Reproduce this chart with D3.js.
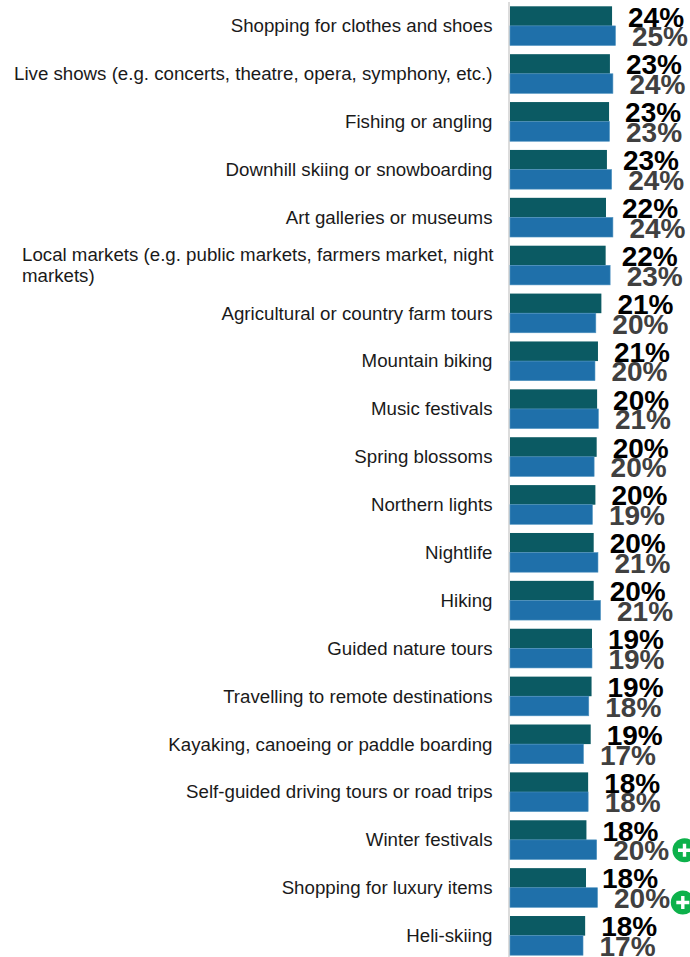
<!DOCTYPE html>
<html>
<head>
<meta charset="utf-8">
<style>
html,body{margin:0;padding:0;background:#fff;overflow:hidden}
svg{display:block}
text{font-family:"Liberation Sans",Arial,sans-serif}
</style>
<script src="https://cdn.jsdelivr.net/npm/d3@7/dist/d3.min.js"></script>
</head>
<body>
<svg id="chart" width="690" height="957"></svg>
<script>
// Share of respondents interested in each activity, two survey waves
const categories = [
  ["Shopping for clothes and shoes"],
  ["Live shows (e.g. concerts, theatre, opera, symphony, etc.)"],
  ["Fishing or angling"],
  ["Downhill skiing or snowboarding"],
  ["Art galleries or museums"],
  ["Local markets (e.g. public markets, farmers market, night", "markets)"],
  ["Agricultural or country farm tours"],
  ["Mountain biking"],
  ["Music festivals"],
  ["Spring blossoms"],
  ["Northern lights"],
  ["Nightlife"],
  ["Hiking"],
  ["Guided nature tours"],
  ["Travelling to remote destinations"],
  ["Kayaking, canoeing or paddle boarding"],
  ["Self-guided driving tours or road trips"],
  ["Winter festivals"],
  ["Shopping for luxury items"],
  ["Heli-skiing"]
];
const currentWave = [23.9,23.4,23.2,22.7,22.48,22.4,21.4,20.6,20.4,20.3,20.0,19.6,19.6,19.2,19.1,18.9,18.3,17.9,17.8,17.6];
const previousWave = [24.7,24.1,23.3,23.8,24.1,23.45,20.1,19.9,20.7,19.7,19.3,20.6,21.2,19.2,18.45,17.2,18.3,20.3,20.49,17.1];
// Rows flagged as significantly higher in the previous wave
const significantUp = ["Winter festivals", "Shopping for luxury items"];

const svg = d3.select("#chart");
const baseX = 510;
const x = d3.scaleLinear().domain([0, 100]).range([baseX, baseX + 427]);
const y = d3.scaleBand()
  .domain(d3.range(categories.length))
  .range([6.3, 6.3 + 47.88 * categories.length])
  .paddingInner(0)
  .paddingOuter(0);
const barH = 19.6;
const pct = v => Math.round(v) + "%";

// Baseline rule
svg.append("line")
  .attr("x1", 509).attr("x2", 509).attr("y1", 2).attr("y2", 957)
  .attr("stroke", "#d4d4d4").attr("stroke-width", 1.6);

const rows = svg.selectAll("g.row")
  .data(categories)
  .join("g")
  .attr("class", "row")
  .attr("transform", (d, i) => `translate(0,${y(i)})`);

// Bars: current wave on top, previous wave below
rows.append("rect")
  .attr("x", baseX)
  .attr("y", 0)
  .attr("height", barH)
  .attr("width", (d, i) => x(currentWave[i]) - baseX)
  .attr("fill", "#0b5a63");
rows.append("rect")
  .attr("x", baseX)
  .attr("y", barH)
  .attr("height", barH)
  .attr("width", (d, i) => x(previousWave[i]) - baseX)
  .attr("fill", "#1f70aa")
  .attr("stroke", "#4f93c0")
  .attr("stroke-width", 0.6);

// Category labels, right aligned unless wrapped onto two lines
rows.each(function (lines) {
  const g = d3.select(this);
  const wrapped = lines.length > 1;
  lines.forEach((line, k) => {
    g.append("text")
      .attr("x", wrapped ? 22 : 492.5)
      .attr("y", wrapped ? 15.5 + k * 21 : 26)
      .attr("text-anchor", wrapped ? "start" : "end")
      .attr("font-size", 18.7)
      .attr("fill", "#1a1a1a")
      .text(line);
  });
});

// Value labels overlap their neighbours, as the bars are tightly packed
rows.append("text")
  .attr("x", (d, i) => x(currentWave[i]) + 16)
  .attr("y", 20.3)
  .attr("font-size", 28)
  .attr("font-weight", "bold")
  .attr("fill", "#000")
  .text((d, i) => pct(currentWave[i]));
rows.append("text")
  .attr("x", (d, i) => x(previousWave[i]) + 16.5)
  .attr("y", 40)
  .attr("font-size", 28)
  .attr("font-weight", "bold")
  .attr("fill", "#404040")
  .text((d, i) => pct(previousWave[i]));

// Significance badges
const badges = rows.filter(d => significantUp.includes(d[0]))
  .append("g")
  .attr("transform", (d, i) => `translate(${i === 0 ? 684.5 : 682.8},${i === 0 ? 30 : 34.4})`);
badges.append("circle").attr("r", 12).attr("fill", "#0db14b");
badges.append("path")
  .attr("d", "M-6.5,0H6.5M0,-6.5V6.5")
  .attr("stroke", "#fff")
  .attr("stroke-width", 3.4);
</script>
</body>
</html>
